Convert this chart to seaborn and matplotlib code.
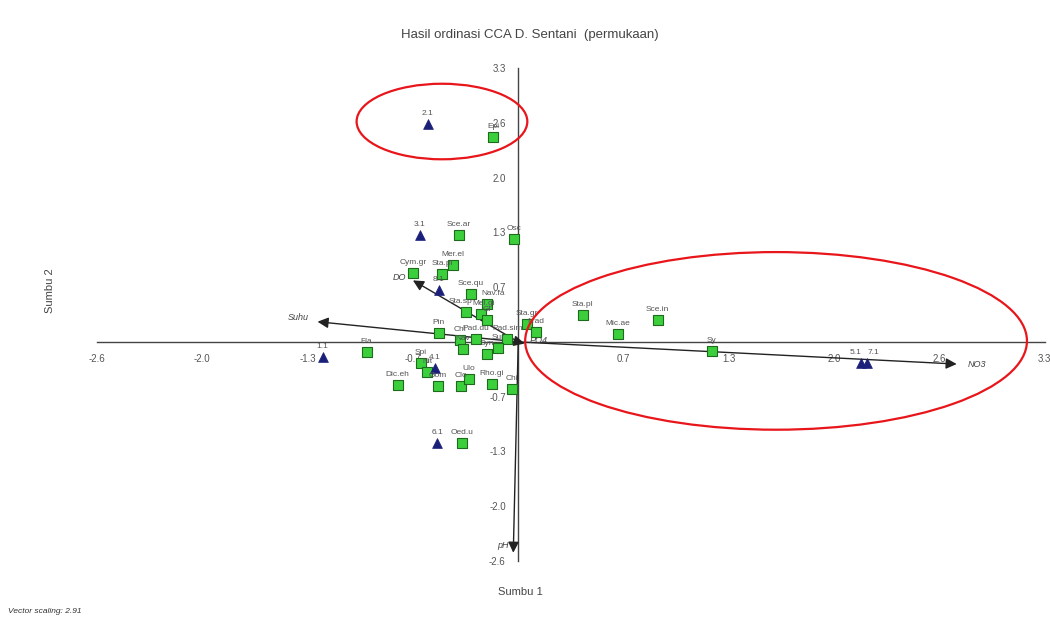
import numpy as np
import pandas as pd
import matplotlib
matplotlib.use("Agg")
import matplotlib.pyplot as plt
from matplotlib.patches import Ellipse
import seaborn as sns

# ---------------- data ----------------
species = ["Epi", "Sce.ar", "Osc", "Mer.el", "Cym.gr", "Sta.pi", "Sce.qu", "Nav.fa",
           "Sta.sp", "Mel.gi", "Gi", "Pin", "Chl", "Pad.du", "Pad.sim", "Sur", "Nav",
           "Syn", "Sta.gr", "f.rad", "Fla", "Spi", "Nit", "Dic.eh", "Gom", "Clo",
           "Ulo", "Rho.gi", "Chi", "Oed.u", "Sta.pl", "Sce.in", "Mic.ae", "Sy"]
sp_x = [-0.157, -0.371, -0.025, -0.409, -0.660, -0.478, -0.296, -0.195,
        -0.327, -0.233, -0.195, -0.497, -0.365, -0.264, -0.069, -0.126, -0.346,
        -0.195, 0.057, 0.113, -0.950, -0.610, -0.572, -0.755, -0.503, -0.358,
        -0.308, -0.164, -0.038, -0.352, 0.403, 0.874, 0.623, 1.214]
sp_y = [2.467, 1.288, 1.239, 0.923, 0.826, 0.814, 0.583, 0.462,
        0.365, 0.340, 0.267, 0.109, 0.024, 0.036, 0.036, -0.073, -0.085,
        -0.146, 0.219, 0.122, -0.122, -0.255, -0.365, -0.522, -0.535, -0.535,
        -0.450, -0.510, -0.571, -1.215, 0.328, 0.267, 0.097, -0.109]

sites = ["1.1", "2.1", "3.1", "4.1", "5.1", "6.1", "7.1", "8.1"]
site_x = [-1.226, -0.566, -0.616, -0.522, 2.151, -0.509, 2.189, -0.497]
site_y = [-0.182, 2.625, 1.288, -0.316, -0.255, -1.215, -0.255, 0.620]

env = ["NO3", "Suhu", "DO", "pH", "PO4"]
env_x = [2.748, -1.258, -0.660, -0.031, 0.040]
env_y = [-0.267, 0.243, 0.741, -2.540, -0.020]

tick_vals = [-2.64, -1.98, -1.32, -0.66, 0.66, 1.32, 1.98, 2.64, 3.3]
tick_labels = ["-2.6", "-2.0", "-1.3", "-0.7", "0.7", "1.3", "2.0", "2.6", "3.3"]

title = "Hasil ordinasi CCA D. Sentani  (permukaan)"
xlabel = "Sumbu 1"
ylabel = "Sumbu 2"
note = "Vector scaling: 2.91"

sp_df = pd.DataFrame({"x": sp_x, "y": sp_y, "name": species})
site_df = pd.DataFrame({"x": site_x, "y": site_y, "name": sites})

# ---------------- plot ----------------
sns.set_style("white")
plt.rcParams["font.family"] = ["Liberation Sans", "DejaVu Sans"]

fig = plt.figure(figsize=(10.5, 6.18), dpi=100)
ax = fig.add_axes([0.0924, 0.0922, 0.9026, 0.7978])
ax.set_xlim(-2.64, 3.3)
ax.set_ylim(-2.64, 3.3)

# spines through the origin
for s in ["top", "right"]:
    ax.spines[s].set_visible(False)
ax.spines["left"].set_position(("data", 0))
ax.spines["bottom"].set_position(("data", 0))
for s in ["left", "bottom"]:
    ax.spines[s].set_color("#444444")
    ax.spines[s].set_linewidth(1.0)
ax.set_xticks(tick_vals)
ax.set_xticklabels(tick_labels)
ax.set_yticks(tick_vals)
ax.set_yticklabels(tick_labels)
ax.tick_params(axis="both", direction="inout", length=14, width=1.0,
               color="#444444", labelsize=7, labelcolor="#555555", pad=2)
ax.set_facecolor("white")

# environmental arrows
for name, ex, ey in zip(env, env_x, env_y):
    ax.annotate("", xy=(ex, ey), xytext=(0, 0),
                arrowprops=dict(arrowstyle="-|>", color="#222222", lw=1.0,
                                mutation_scale=16, shrinkA=0, shrinkB=0))
env_off = {"NO3": (8, 0, "left", "center"), "Suhu": (-6, 3, "right", "center"),
           "DO": (-5, 2, "right", "center"), "pH": (-3, 2, "right", "bottom"),
           "PO4": (4, 2, "left", "center")}
for name, ex, ey in zip(env, env_x, env_y):
    dx, dy, ha, va = env_off[name]
    ax.annotate(name, xy=(ex, ey), xytext=(dx, dy), textcoords="offset points",
                ha=ha, va=va, fontsize=6.5, style="italic", color="#444444")

# species squares
sns.scatterplot(data=sp_df, x="x", y="y", ax=ax, marker="s", s=60,
                color="#3ccf3c", edgecolor="#1e6b1e", linewidth=0.8, zorder=3,
                legend=False)
# site triangles
sns.scatterplot(data=site_df, x="x", y="y", ax=ax, marker="^", s=50,
                color="#1a1f7a", edgecolor="#1a1f7a", linewidth=0.5, zorder=4,
                legend=False)

label_shift = {"5.1": -4, "7.1": 4, "Nav.fa": 4, "Mel.gi": 2, "Sta.sp": -4}
for n, x, y in zip(species, sp_x, sp_y):
    ax.annotate(n, xy=(x, y), xytext=(label_shift.get(n, 0), 5),
                textcoords="offset points", ha="center", va="bottom",
                fontsize=6, color="#555555", zorder=5)
for n, x, y in zip(sites, site_x, site_y):
    ax.annotate(n, xy=(x, y), xytext=(label_shift.get(n, 0), 5),
                textcoords="offset points", ha="center", va="bottom",
                fontsize=6, color="#555555", zorder=5)

ax.set_xlabel("")
ax.set_ylabel("")

# red highlight ellipses
ax.add_patch(Ellipse((-0.478, 2.655), 1.07, 0.91, fill=False, edgecolor="#e8161b",
                     lw=1.6, zorder=6, clip_on=False))
ax.add_patch(Ellipse((1.616, 0.012), 3.145, 2.14, fill=False, edgecolor="#e8161b",
                     lw=1.6, zorder=6, clip_on=False))

fig.text(0.505, 0.943, title, ha="center", va="center", fontsize=9.5, color="#444444")
fig.text(0.496, 0.042, xlabel, ha="center", va="center", fontsize=8, color="#444444")
fig.text(0.048, 0.53, ylabel, ha="center", va="center", rotation=90, fontsize=8,
         color="#444444")
fig.text(0.008, 0.01, note, ha="left", va="center", fontsize=6, style="italic",
         color="#333333")

fig.savefig("out.png", dpi=100, facecolor="white")
